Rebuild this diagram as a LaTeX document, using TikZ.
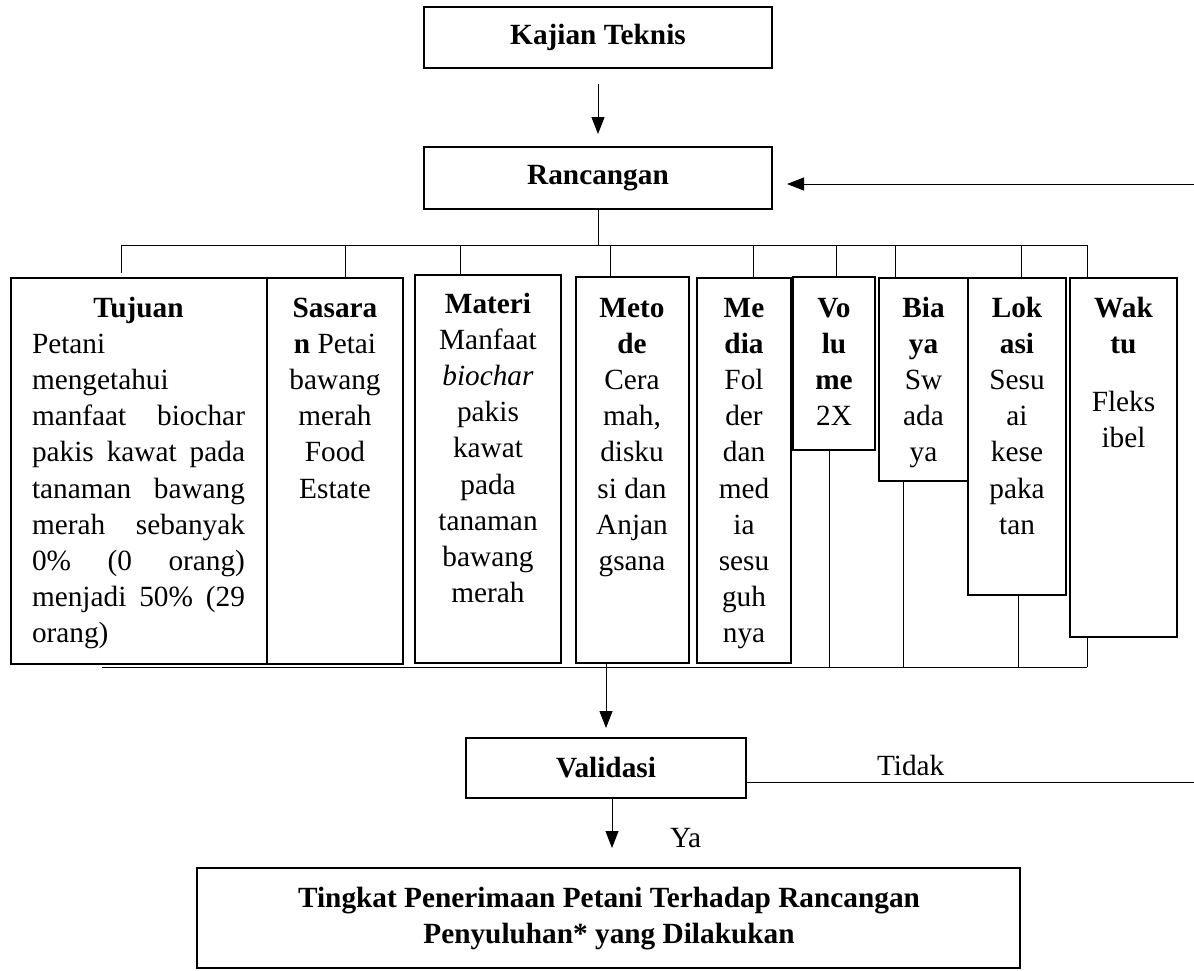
\documentclass[tikz,border=0pt]{standalone}
\usepackage{fontspec}
\setmainfont{Liberation Serif}
\usetikzlibrary{arrows.meta}
\begin{document}
\begin{tikzpicture}[x=1pt,y=-1pt,
  boxst/.style={draw, line width=2pt, inner sep=0pt, outer sep=0pt, rectangle},
  txt/.style={inner sep=0pt, outer sep=0pt, align=center, font=\fontsize{29.3}{36.2}\selectfont},
  txtb/.style={txt, font=\fontsize{29.3}{36.2}\selectfont\bfseries},
  conn/.style={line width=1pt},
  arr/.style={line width=1pt, -{Triangle[length=17pt,width=13pt]}}
]
\useasboundingbox (0,0) rectangle (1194,970);

% top boxes
\node[boxst, txtb, draw, line width=2pt, minimum width=348pt, minimum height=61pt] (kaj) at (598,37.5) {Kajian Teknis};
\node[boxst, txtb, draw, line width=2pt, minimum width=348pt, minimum height=62pt] (ran) at (598,178) {Rancangan};

% component boxes
\node[boxst, minimum width=256pt, minimum height=386pt] (tuj) at (139,471) {};
\node[boxst, minimum width=136pt, minimum height=386pt] (sas) at (335,471) {};
\node[boxst, minimum width=146pt, minimum height=388pt] (mat) at (488,469) {};
\node[boxst, minimum width=113pt, minimum height=386pt] (met) at (632.5,470) {};
\node[boxst, minimum width=94pt, minimum height=385pt] (med) at (744,470.5) {};
\node[boxst, minimum width=82pt, minimum height=173pt] (vol) at (834,363.5) {};
\node[boxst, minimum width=89pt, minimum height=203pt] (bia) at (923.5,379.5) {};
\node[boxst, minimum width=98pt, minimum height=317pt] (lok) at (1017,436.5) {};
\node[boxst, minimum width=107pt, minimum height=359pt] (wak) at (1123.5,457.5) {};

% lower boxes
\node[boxst, txtb, draw, line width=2pt, minimum width=280pt, minimum height=60pt] (val) at (606,768) {Validasi};
\node[boxst, minimum width=823pt, minimum height=100pt] (fin) at (608.5,918) {};

% texts in component boxes
\node[txt, anchor=north west, align=left] (tujT) at (32,291.66) {\strut\makebox[213pt][c]{\bfseries Tujuan}\\
Petani\\
mengetahui\\
\makebox[213pt][s]{manfaat\hfill biochar}\\
\makebox[213pt][s]{pakis\hfill kawat\hfill pada}\\
\makebox[213pt][s]{tanaman\hfill bawang}\\
\makebox[213pt][s]{merah\hfill sebanyak}\\
\makebox[213pt][s]{0\%\hfill (0\hfill orang)}\\
\makebox[213pt][s]{menjadi\hfill 50\%\hfill (29}\\
orang)};
\node[txt, anchor=north] (sasT) at (335,291.66) {\strut\textbf{Sasara}\\ \textbf{n} Petai\\ bawang\\ merah\\ Food\\ Estate};
\node[txt, anchor=north] (matT) at (488,287.66) {\strut\textbf{Materi}\\ Manfaat\\ \textit{biochar}\\ pakis\\ kawat\\ pada\\ tanaman\\ bawang\\ merah};
\node[txt, anchor=north] (metT) at (632,291.66) {\strut\textbf{Meto}\\ \textbf{de}\\ Cera\\ mah,\\ disku\\ si dan\\ Anjan\\ gsana};
\node[txt, anchor=north] (medT) at (744,291.66) {\strut\textbf{Me}\\ \textbf{dia}\\ Fol\\ der\\ dan\\ med\\ ia\\ sesu\\ guh\\ nya};
\node[txt, anchor=north] (volT) at (834,291.66) {\strut\textbf{Vo}\\ \textbf{lu}\\ \textbf{me}\\ 2X};
\node[txt, anchor=north] (biaT) at (923.5,291.66) {\strut\textbf{Bia}\\ \textbf{ya}\\ Sw\\ ada\\ ya};
\node[txt, anchor=north] (lokT) at (1017,291.66) {\strut\textbf{Lok}\\ \textbf{asi}\\ Sesu\\ ai\\ kese\\ paka\\ tan};
\node[txt, anchor=north] (wakT) at (1123.5,291.66) {\strut\textbf{Wak}\\ \textbf{tu}\\[22pt] Fleks\\ ibel};

% final text
\node[txtb, anchor=north] (finT) at (609,881.66) {\strut Tingkat Penerimaan Petani Terhadap Rancangan\\ Penyuluhan* yang Dilakukan};

% labels
\node[txt, anchor=base west] (tidT) at (877,775) {Tidak};
\node[txt, anchor=base west] (yaT) at (670,847) {Ya};

% connectors top
\draw[arr, shorten <=16pt, shorten >=13pt] (kaj.south) -- (ran.north);
\coordinate (rin) at (1194,184);
\draw[arr, shorten >=15pt] (rin) -- (rin -| ran.east);

% top bus
\coordinate (bj) at (598,245);
\draw[conn] (ran.south) -- (bj);
\coordinate (d1) at (121,245);
\coordinate (d2) at (345,245);
\coordinate (d3) at (460,245);
\coordinate (d4) at (610,245);
\coordinate (d5) at (753,245);
\coordinate (d6) at (836,245);
\coordinate (d7) at (895,245);
\coordinate (d8) at (1021,245);
\coordinate (d9) at (1087,245);
\draw[conn] (d1) -- (d9);
\draw[conn, shorten >=5pt] (d1) -- (d1 |- tuj.north);
\draw[conn] (d2) -- (d2 |- sas.north);
\draw[conn] (d3) -- (d3 |- mat.north);
\draw[conn] (d4) -- (d4 |- met.north);
\draw[conn] (d5) -- (d5 |- med.north);
\draw[conn] (d6) -- (d6 |- vol.north);
\draw[conn] (d7) -- (d7 |- bia.north);
\draw[conn] (d8) -- (d8 |- lok.north);
\draw[conn] (d9) -- (d9 |- wak.north);

% bottom bus
\coordinate (e0) at (102,667);
\coordinate (e1) at (829,667);
\coordinate (e2) at (903,667);
\coordinate (e3) at (1018,667);
\coordinate (e4) at (1087,667);
\draw[conn] (e0) -- (e4);
\draw[conn] (e1 |- vol.south) -- (e1);
\draw[conn] (e2 |- bia.south) -- (e2);
\draw[conn] (e3 |- lok.south) -- (e3);
\draw[conn] (e4 |- wak.south) -- (e4);

% to validasi
\draw[arr, shorten >=10pt] (met.south -| val.north) -- (val.north);
\coordinate (tid) at (1194,782);
\draw[conn] (tid -| val.east) -- (tid);
\draw[arr, shorten >=20pt] ([xshift=6pt]val.south) -- ([xshift=6pt]val.south |- fin.north);
\end{tikzpicture}
\end{document}
